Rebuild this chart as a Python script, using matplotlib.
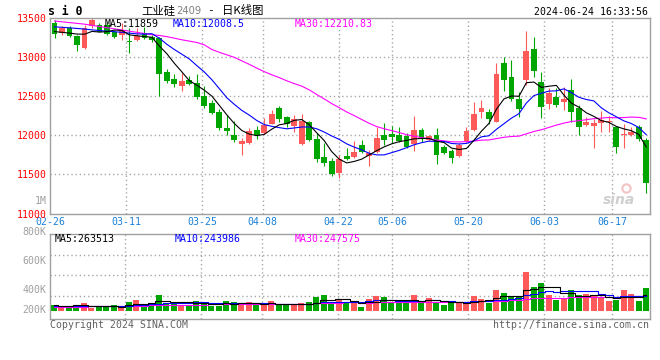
import matplotlib
matplotlib.use("Agg")
import matplotlib.pyplot as plt
import numpy as np
import pandas as pd

# ---------------- data ----------------
opens = [13440, 13308, 13380, 13277, 13123, 13400, 13410, 13420, 13330, 13286,
         13213, 13222, 13308, 13265, 13244, 12808, 12723, 12637, 12710, 12667,
         12505, 12419, 12300, 12099, 12005, 11890, 11907, 12069, 12035, 12147,
         12351, 12236, 12121, 11890, 12176, 11954, 11720, 11672, 11515, 11736,
         11720, 11877, 11740, 11791, 12005, 12014, 12005, 11992, 11886, 12069,
         11941, 12005, 11855, 11804, 11740, 11932, 12069, 12304, 12304, 12176,
         12931, 12752, 12470, 12710, 13107, 12688, 12402, 12496, 12432, 12582,
         12355, 12133, 12121, 12163, 12170, 12112, 12002, 12005, 12104, 11941]
highs = [13478, 13400, 13400, 13290, 13414, 13500, 13440, 13450, 13350, 13435,
         13372, 13380, 13392, 13290, 13260, 12847, 12787, 12803, 12761, 12787,
         12633, 12454, 12334, 12261, 12185, 11971, 12091, 12120, 12219, 12326,
         12377, 12253, 12261, 12274, 12190, 12035, 11907, 11715, 11749, 11835,
         11928, 11941, 11813, 12104, 12163, 12120, 12112, 12035, 12248, 12090,
         12000, 12091, 11880, 11830, 11900, 12112, 12432, 12454, 12334, 12924,
         13000, 12970, 12560, 13337, 13264, 12816, 12603, 12611, 12616, 12723,
         12390, 12232, 12210, 12317, 12250, 12120, 12146, 12112, 12133, 11963]
lows = [13250, 13290, 13260, 13085, 13110, 13380, 13320, 13280, 13250, 13222,
        13052, 13210, 13230, 13200, 12509, 12667, 12616, 12573, 12646, 12463,
        12355, 12270, 12069, 12005, 11918, 11749, 11890, 11954, 12020, 12140,
        12176, 12104, 12048, 11880, 11930, 11663, 11608, 11484, 11458, 11690,
        11710, 11771, 11608, 11780, 11877, 11907, 11920, 11840, 11804, 11920,
        11930, 11634, 11760, 11650, 11730, 11920, 12060, 12219, 12146, 12170,
        12573, 12440, 12232, 12646, 12752, 12227, 12334, 12368, 12326, 12176,
        12005, 12120, 11843, 12048, 12040, 11779, 11843, 11990, 11932, 11266]
closes = [13300, 13372, 13277, 13160, 13372, 13480, 13330, 13300, 13265, 13350,
          13192, 13277, 13244, 13222, 12786, 12701, 12662, 12697, 12659, 12496,
          12377, 12291, 12099, 12057, 11941, 11929, 12057, 12005, 12133, 12274,
          12210, 12142, 12206, 12185, 11941, 11698, 11643, 11502, 11698, 11698,
          11791, 11791, 11771, 11971, 11941, 11984, 11932, 11855, 12069, 11963,
          11992, 11749, 11771, 11715, 11873, 12057, 12274, 12355, 12210, 12786,
          12710, 12463, 12338, 13081, 12825, 12368, 12539, 12390, 12466, 12304,
          12112, 12176, 12163, 12194, 12190, 11855, 12018, 12048, 11954, 11387]
volumes = [96000, 69000, 80000, 80000, 128000, 48000, 80000, 80000, 96000, 53000,
           144000, 176000, 112000, 128000, 256000, 128000, 128000, 104000, 104000, 160000,
           112000, 88000, 88000, 160000, 144000, 128000, 144000, 91000, 91000, 160000,
           91000, 91000, 91000, 128000, 144000, 224000, 256000, 133000, 192000, 128000,
           128000, 64000, 192000, 240000, 224000, 128000, 128000, 128000, 256000, 128000,
           208000, 128000, 96000, 128000, 144000, 133000, 240000, 192000, 133000, 336000,
           288000, 240000, 224000, 624000, 384000, 448000, 256000, 176000, 192000, 336000,
           256000, 272000, 240000, 208000, 160000, 176000, 336000, 272000, 160000, 368000]

# moving-average values before enough history exists
ma5_head = [13330, 13320, 13310, 13298]
ma10_head = [13390, 13385, 13378, 13370, 13362, 13352, 13343, 13335, 13328]
ma30_head = [13465, 13455, 13445, 13435, 13425, 13410, 13395, 13380, 13365, 13350,
             13335, 13320, 13305, 13290, 13280, 13265, 13245, 13225, 13208, 13190,
             13160, 13100, 13065, 13032, 13000, 12955, 12910, 12862, 12816]
vma5_head = [90000, 88000, 88000, 89000]
vma10_head = [85000, 85000, 84000, 84000, 83000, 83000, 82000, 82000, 81000]
vma30_head = [64000, 66000, 68000, 70000, 72000, 74000, 76000, 78000, 80000, 82000,
              84000, 86000, 88000, 90000, 92000, 94000, 96000, 98000, 100000, 102000,
              104000, 106000, 107000, 108000, 109000, 110000, 111000, 112000, 113000]

tick_labels = ['02-26', '03-11', '03-25', '04-08', '04-22', '05-06', '05-20', '06-03', '06-17']
tick_index = [0, 10, 20, 28, 38, 45, 55, 65, 74]
price_ticks = [11000, 11500, 12000, 12500, 13000, 13500]
vol_tick_labels = ['800K', '600K', '400K', '200K']
ma_texts = ['MA5:11859', 'MA10:12008.5', 'MA30:12210.83']
vma_texts = ['MA5:263513', 'MA10:243986', 'MA30:247575']
title_code = 'si0'
title_name = '工业硅'
title_contract = '2409'
title_kind = '日K线图'
timestamp = '2024-06-24 16:33:56'

# ---------------- style ----------------
RED = '#ff5a5a'
GREEN = '#00a600'
GRID = '#a8a8a8'
BORDER = '#a0a0a0'
MONO = 'DejaVu Sans Mono'
CJK = ['Noto Sans CJK SC', 'DejaVu Sans']
FS = 7.1
LW = 0.8
W, H = 660, 360


def rect(l, t, r, b):
    return [l / W, 1 - b / H, (r - l) / W, (b - t) / H]


def ma(vals, n, head):
    s = pd.Series(vals, dtype=float).rolling(n).mean().to_numpy()
    s[:n - 1] = head
    return s


o = np.array(opens, float)
h = np.array(highs, float)
l = np.array(lows, float)
c = np.array(closes, float)
v = np.array(volumes, float)
x = np.arange(len(c))
up = c >= o
cols = np.where(up, RED, GREEN)

fig = plt.figure(figsize=(6.6, 3.6), dpi=100)
fig.patch.set_facecolor('white')
ax = fig.add_axes(rect(50, 18.3, 650, 213.5))
axv = fig.add_axes(rect(50, 234, 650, 319))

# gridline positions (Sina places the date grid slightly wider than candles)
tick_pos = 9.54 + (np.array(tick_index) - 10) * 1.0147

for a in (ax, axv):
    a.set_xlim(-0.5, len(c) - 0.5)
    for s in a.spines.values():
        s.set_color(BORDER)
        s.set_linewidth(1.0)
    for tp in tick_pos[1:]:
        a.axvline(tp, color=GRID, lw=1.0, ls=(0, (1, 2)), zorder=0)

# ---- price panel ----
ax.set_ylim(11000, 13500)
for pt in price_ticks[1:-1]:
    ax.axhline(pt, color=GRID, lw=1.0, ls=(0, (1, 2)), zorder=0)
ax.vlines(x, l, h, colors=cols, lw=LW, zorder=2)
body_b = np.minimum(o, c)
body_h = np.maximum(np.abs(c - o), 14)
ax.bar(x, body_h, bottom=body_b, width=0.78, color=cols, edgecolor=cols,
       linewidth=0, zorder=3)

ma5 = ma(c, 5, ma5_head)
ma10 = ma(c, 10, ma10_head)
ma30 = ma(c, 30, ma30_head)
ax.plot(x, ma30, color='#ff00ff', lw=LW, zorder=4)
ax.plot(x, ma10, color='#0000ff', lw=LW, zorder=4)
ax.plot(x, ma5, color='black', lw=LW, zorder=4)

ax.set_yticks(price_ticks)
ax.set_yticklabels([str(p) for p in price_ticks], color='red', fontsize=FS,
                   family=MONO)
ax.tick_params(axis='y', length=0, pad=2.3)
ax.set_xticks(tick_pos)
ax.set_xticklabels(tick_labels, color='#1a80d8', fontsize=FS, family=MONO)
ax.tick_params(axis='x', length=0, pad=2.7)

ax.text(55 / 600, 1 - (24 - 18.3) / 195.2, ma_texts[0], transform=ax.transAxes,
        color='black', fontsize=FS, family=MONO, va='center', ha='left')
ax.text((173 - 50) / 600, 1 - (24 - 18.3) / 195.2, ma_texts[1], transform=ax.transAxes,
        color='#0000ff', fontsize=FS, family=MONO, va='center', ha='left')
ax.text((295 - 50) / 600, 1 - (24 - 18.3) / 195.2, ma_texts[2], transform=ax.transAxes,
        color='#ff00ff', fontsize=FS, family=MONO, va='center', ha='left')

# watermark
ax.text(0.975, 0.07, 'sina', transform=ax.transAxes, color='#cfcfcf',
        fontsize=10, style='italic', weight='bold', ha='right', va='center',
        family='DejaVu Sans', zorder=1)
ax.plot([0.96], [0.13], transform=ax.transAxes, marker='o', ms=6, mfc='none',
        mec='#f3c4c4', mew=1.5, zorder=1)

# ---- volume panel ----
VPX = 16000.0            # volume per pixel
axv.set_ylim(-8 * VPX, 77 * VPX)
for gp in [255, 275.3, 295.7]:
    axv.axhline((311 - gp) * VPX, color=GRID, lw=1.0, ls=(0, (1, 2)), zorder=0)
axv.bar(x, v, width=0.8, color=cols, linewidth=0, zorder=2)
vma5 = ma(v, 5, vma5_head)
vma10 = ma(v, 10, vma10_head)
vma30 = ma(v, 30, vma30_head)
axv.plot(x, vma30, color='#ff00ff', lw=LW, drawstyle='steps-mid', zorder=3)
axv.plot(x, vma10, color='#0000ff', lw=LW, drawstyle='steps-mid', zorder=3)
axv.plot(x, vma5, color='black', lw=LW, drawstyle='steps-mid', zorder=3)
axv.set_yticks([])
axv.set_xticks([])

fig.text(55 / W, 1 - 238.5 / H, vma_texts[0], color='black', fontsize=FS,
         family=MONO, va='center', ha='left')
fig.text(175 / W, 1 - 238.5 / H, vma_texts[1], color='#0000ff', fontsize=FS,
         family=MONO, va='center', ha='left')
fig.text(295 / W, 1 - 238.5 / H, vma_texts[2], color='#ff00ff', fontsize=FS,
         family=MONO, va='center', ha='left')

for lab, yp in zip(vol_tick_labels, [231.5, 260.5, 290, 310]):
    fig.text(46.5 / W, 1 - yp / H, lab, color='#a0a0a0', fontsize=FS,
             family=MONO, va='center', ha='right')
fig.text(46.5 / W, 1 - 200.7 / H, '1M', color='#a0a0a0', fontsize=FS,
         family=MONO, va='center', ha='right')

# ---- header / footer ----
fig.text(48 / W, 1 - 11.5 / H, ' '.join(title_code), color='black', fontsize=8.3,
         family=MONO, weight='bold', va='center', ha='left')
fig.text(141.5 / W, 1 - 10.5 / H, title_name, color='black', fontsize=8.2,
         family=CJK, va='center', ha='left')
fig.text(176.5 / W, 1 - 10.5 / H, title_contract, color='#808080', fontsize=7.2,
         family='DejaVu Sans', va='center', ha='left')
fig.text(210 / W, 1 - 10.5 / H, '-', color='black', fontsize=8,
         family=MONO, va='center', ha='center')
fig.text(222 / W, 1 - 10.5 / H, title_kind, color='black', fontsize=8.2,
         family=CJK, va='center', ha='left')
fig.text(648 / W, 1 - 11.7 / H, timestamp, color='black', fontsize=FS,
         family=MONO, va='center', ha='right')
fig.text(50 / W, 1 - 324.5 / H, 'Copyright 2024 SINA.COM', color='#606060',
         fontsize=FS, family=MONO, va='center', ha='left')
fig.text(649 / W, 1 - 324.5 / H, 'http://finance.sina.com.cn', color='#606060',
         fontsize=FS, family=MONO, va='center', ha='right')

fig.savefig('out.png', dpi=100, facecolor='white')
